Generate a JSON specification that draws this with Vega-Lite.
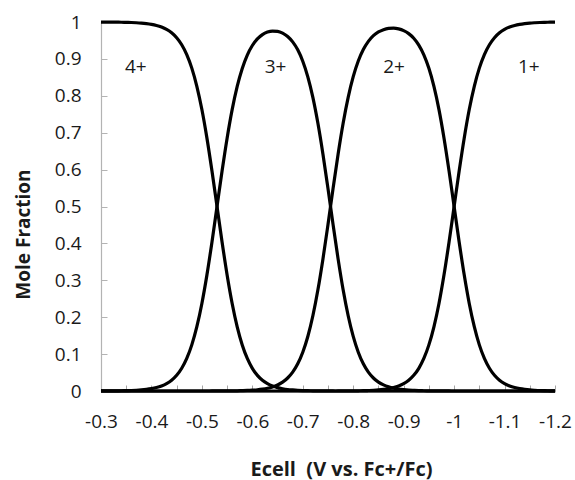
{
  "$schema": "https://vega.github.io/schema/vega-lite/v6.json",
  "width": 454,
  "height": 369,
  "autosize": {"type": "none"},
  "padding": {"left": 101, "top": 22, "right": 20, "bottom": 89},
  "background": "white",
  "config": {
    "view": {"stroke": null},
    "font": "Open Sans"
  },
  "datasets": {
    "curves": [
      {"e":-0.30,"a":0.99987,"b":0.00013,"c":0,"d":0},
      {"e":-0.31,"a":0.99981,"b":0.00019,"c":0,"d":0},
      {"e":-0.32,"a":0.99972,"b":0.00028,"c":0,"d":0},
      {"e":-0.33,"a":0.99958,"b":0.00042,"c":0,"d":0},
      {"e":-0.34,"a":0.99939,"b":0.00061,"c":0,"d":0},
      {"e":-0.35,"a":0.99909,"b":0.00091,"c":0,"d":0},
      {"e":-0.36,"a":0.99866,"b":0.00134,"c":0,"d":0},
      {"e":-0.37,"a":0.99803,"b":0.00197,"c":0,"d":0},
      {"e":-0.38,"a":0.99709,"b":0.00291,"c":0,"d":0},
      {"e":-0.39,"a":0.99571,"b":0.00429,"c":0,"d":0},
      {"e":-0.40,"a":0.99369,"b":0.00631,"c":0,"d":0},
      {"e":-0.41,"a":0.99071,"b":0.00929,"c":0,"d":0},
      {"e":-0.42,"a":0.98635,"b":0.01365,"c":0,"d":0},
      {"e":-0.43,"a":0.97999,"b":0.02001,"c":0,"d":0},
      {"e":-0.44,"a":0.97075,"b":0.02925,"c":0,"d":0},
      {"e":-0.45,"a":0.95742,"b":0.04258,"c":0,"d":0},
      {"e":-0.46,"a":0.93842,"b":0.06158,"c":0,"d":0},
      {"e":-0.47,"a":0.91171,"b":0.08829,"c":0,"d":0},
      {"e":-0.48,"a":0.8750,"b":0.1250,"c":0,"d":0},
      {"e":-0.49,"a":0.8258,"b":0.1742,"c":0,"d":0},
      {"e":-0.50,"a":0.7627,"b":0.2373,"c":0,"d":0},
      {"e":-0.51,"a":0.6853,"b":0.3147,"c":0,"d":0},
      {"e":-0.52,"a":0.5960,"b":0.4040,"c":0.00007,"d":0},
      {"e":-0.53,"a":0.5000,"b":0.4999,"c":0.0001,"d":0},
      {"e":-0.54,"a":0.4039,"b":0.5960,"c":0.0001,"d":0},
      {"e":-0.55,"a":0.3146,"b":0.6852,"c":0.0002,"d":0},
      {"e":-0.56,"a":0.2373,"b":0.7624,"c":0.0004,"d":0},
      {"e":-0.57,"a":0.1740,"b":0.8253,"c":0.0006,"d":0},
      {"e":-0.58,"a":0.1249,"b":0.8741,"c":0.0010,"d":0},
      {"e":-0.59,"a":0.0881,"b":0.9104,"c":0.0015,"d":0},
      {"e":-0.60,"a":0.0614,"b":0.9363,"c":0.0023,"d":0},
      {"e":-0.61,"a":0.0424,"b":0.9542,"c":0.0034,"d":0},
      {"e":-0.62,"a":0.0291,"b":0.9658,"c":0.0051,"d":0},
      {"e":-0.63,"a":0.0199,"b":0.9726,"c":0.0075,"d":0},
      {"e":-0.64,"a":0.0135,"b":0.9754,"c":0.0111,"d":0},
      {"e":-0.65,"a":0.0091,"b":0.9745,"c":0.0164,"d":0},
      {"e":-0.66,"a":0.0062,"b":0.9698,"c":0.0241,"d":0},
      {"e":-0.67,"a":0.0041,"b":0.9607,"c":0.0352,"d":0},
      {"e":-0.68,"a":0.0028,"b":0.9461,"c":0.0511,"d":0},
      {"e":-0.69,"a":0.0018,"b":0.9245,"c":0.0737,"d":0},
      {"e":-0.70,"a":0.0012,"b":0.8937,"c":0.1051,"d":0},
      {"e":-0.71,"a":0.0008,"b":0.8514,"c":0.1478,"d":0},
      {"e":-0.72,"a":0.0005,"b":0.7958,"c":0.2039,"d":0},
      {"e":-0.73,"a":0.0003,"b":0.7255,"c":0.2742,"d":0},
      {"e":-0.74,"a":0.0002,"b":0.6419,"c":0.3580,"d":0},
      {"e":-0.75,"a":0.0001,"b":0.5485,"c":0.4514,"d":0},
      {"e":-0.76,"a":0.0001,"b":0.4515,"c":0.5484,"d":0},
      {"e":-0.77,"a":0,"b":0.3581,"c":0.6418,"d":0.0001},
      {"e":-0.78,"a":0,"b":0.2743,"c":0.7256,"d":0.0001},
      {"e":-0.79,"a":0,"b":0.2039,"c":0.7959,"d":0.0002},
      {"e":-0.80,"a":0,"b":0.1479,"c":0.8518,"d":0.0004},
      {"e":-0.81,"a":0,"b":0.1052,"c":0.8943,"d":0.0006},
      {"e":-0.82,"a":0,"b":0.0738,"c":0.9254,"d":0.0008},
      {"e":-0.83,"a":0,"b":0.0512,"c":0.9475,"d":0.0013},
      {"e":-0.84,"a":0,"b":0.0352,"c":0.9629,"d":0.0019},
      {"e":-0.85,"a":0,"b":0.0241,"c":0.9730,"d":0.0028},
      {"e":-0.86,"a":0,"b":0.0165,"c":0.9793,"d":0.0042},
      {"e":-0.87,"a":0,"b":0.0112,"c":0.9826,"d":0.0062},
      {"e":-0.88,"a":0,"b":0.0076,"c":0.9833,"d":0.0092},
      {"e":-0.89,"a":0,"b":0.0051,"c":0.9813,"d":0.0136},
      {"e":-0.90,"a":0,"b":0.0035,"c":0.9766,"d":0.0199},
      {"e":-0.91,"a":0,"b":0.0023,"c":0.9685,"d":0.0292},
      {"e":-0.92,"a":0,"b":0.0016,"c":0.9560,"d":0.0425},
      {"e":-0.93,"a":0,"b":0.0010,"c":0.9375,"d":0.0615},
      {"e":-0.94,"a":0,"b":0.0007,"c":0.9111,"d":0.0882},
      {"e":-0.95,"a":0,"b":0.0004,"c":0.8746,"d":0.1250},
      {"e":-0.96,"a":0,"b":0.0003,"c":0.8256,"d":0.1741},
      {"e":-0.97,"a":0,"b":0.0002,"c":0.7626,"d":0.2372},
      {"e":-0.98,"a":0,"b":0.0001,"c":0.6851,"d":0.3148},
      {"e":-0.99,"a":0,"b":0.0001,"c":0.5959,"d":0.4040},
      {"e":-1.00,"a":0,"b":0,"c":0.5000,"d":0.5000},
      {"e":-1.01,"a":0,"b":0,"c":0.4040,"d":0.5960},
      {"e":-1.02,"a":0,"b":0,"c":0.3148,"d":0.6852},
      {"e":-1.03,"a":0,"b":0,"c":0.2373,"d":0.7627},
      {"e":-1.04,"a":0,"b":0,"c":0.1742,"d":0.8258},
      {"e":-1.05,"a":0,"b":0,"c":0.1250,"d":0.8750},
      {"e":-1.06,"a":0,"b":0,"c":0.0883,"d":0.9117},
      {"e":-1.07,"a":0,"b":0,"c":0.0616,"d":0.9384},
      {"e":-1.08,"a":0,"b":0,"c":0.0426,"d":0.9574},
      {"e":-1.09,"a":0,"b":0,"c":0.0293,"d":0.9707},
      {"e":-1.10,"a":0,"b":0,"c":0.0200,"d":0.9800},
      {"e":-1.11,"a":0,"b":0,"c":0.0137,"d":0.9863},
      {"e":-1.12,"a":0,"b":0,"c":0.0093,"d":0.9907},
      {"e":-1.13,"a":0,"b":0,"c":0.0063,"d":0.9937},
      {"e":-1.14,"a":0,"b":0,"c":0.0043,"d":0.9957},
      {"e":-1.15,"a":0,"b":0,"c":0.0029,"d":0.9971},
      {"e":-1.16,"a":0,"b":0,"c":0.0020,"d":0.9980},
      {"e":-1.17,"a":0,"b":0,"c":0.0013,"d":0.9987},
      {"e":-1.18,"a":0,"b":0,"c":0.0009,"d":0.9991},
      {"e":-1.19,"a":0,"b":0,"c":0.0006,"d":0.9994},
      {"e":-1.20,"a":0,"b":0,"c":0.0004,"d":0.9996}
    ],
    "labels": [
      {"e":-0.369,"frac":0.878,"t":"4+"},
      {"e":-0.646,"frac":0.878,"t":"3+"},
      {"e":-0.881,"frac":0.878,"t":"2+"},
      {"e":-1.148,"frac":0.878,"t":"1+"}
    ]
  },
  "encoding": {
    "x": {
      "field": "e", "type": "quantitative",
      "scale": {"domain": [-1.2, -0.3], "reverse": true, "nice": false, "zero": false},
      "axis": {
        "title": "Ecell\u00a0\u00a0(V vs. Fc+/Fc)",
        "values": [-0.3,-0.35,-0.4,-0.45,-0.5,-0.55,-0.6,-0.65,-0.7,-0.75,-0.8,-0.85,-0.9,-0.95,-1,-1.05,-1.1,-1.15,-1.2],
        "labelExpr": "abs(round(datum.value*100)) % 10 == 0 ? toString(datum.value) : ''",
        "grid": false,
        "domainColor": "#6e6e6e",
        "domainWidth": 2.2,
        "tickColor": "#a6a6a6",
        "tickSize": -6,
        "tickWidth": 1,
        "labelFont": "Open Sans",
        "labelFontSize": 19,
        "labelColor": "#1a1a1a",
        "labelPadding": 27,
        "labelFlush": false,
        "labelOverlap": false,
        "titleFont": "Open Sans",
        "titleFontSize": 20,
        "titleFontWeight": "bold",
        "titleColor": "#1a1a1a",
        "titleX": 240,
        "titleY": 84,
        "titleAlign": "center",
        "titleBaseline": "alphabetic"
      }
    },
    "y": {
      "field": "frac", "type": "quantitative",
      "scale": {"domain": [0, 1], "nice": false},
      "axis": {
        "title": "Mole Fraction",
        "values": [0,0.1,0.2,0.3,0.4,0.5,0.6,0.7,0.8,0.9,1],
        "labelExpr": "toString(datum.value)",
        "grid": false,
        "domainColor": "#b3b3b3",
        "domainWidth": 1.2,
        "tickColor": "#b3b3b3",
        "tickSize": -6,
        "tickWidth": 1,
        "labelFont": "Open Sans",
        "labelFontSize": 19,
        "labelColor": "#1a1a1a",
        "labelPadding": 26,
        "labelFlush": false,
        "labelOverlap": false,
        "titleFont": "Open Sans",
        "titleFontSize": 19,
        "titleFontWeight": "bold",
        "titleColor": "#1a1a1a",
        "titleAngle": -90,
        "titleX": -72,
        "titleY": 212,
        "titleAlign": "center",
        "titleBaseline": "alphabetic"
      }
    }
  },
  "layer": [
    {
      "data": {"name": "curves"},
      "transform": [{"fold": ["a","b","c","d"], "as": ["species","frac"]}],
      "mark": {"type": "line", "color": "black", "strokeWidth": 3.2, "interpolate": "monotone"},
      "encoding": {
        "detail": {"field": "species", "type": "nominal"}
      }
    },
    {
      "data": {"name": "labels"},
      "mark": {"type": "text", "font": "Open Sans", "fontSize": 19, "color": "#1a1a1a", "align": "center", "baseline": "middle"},
      "encoding": {
        "text": {"field": "t"}
      }
    }
  ]
}
